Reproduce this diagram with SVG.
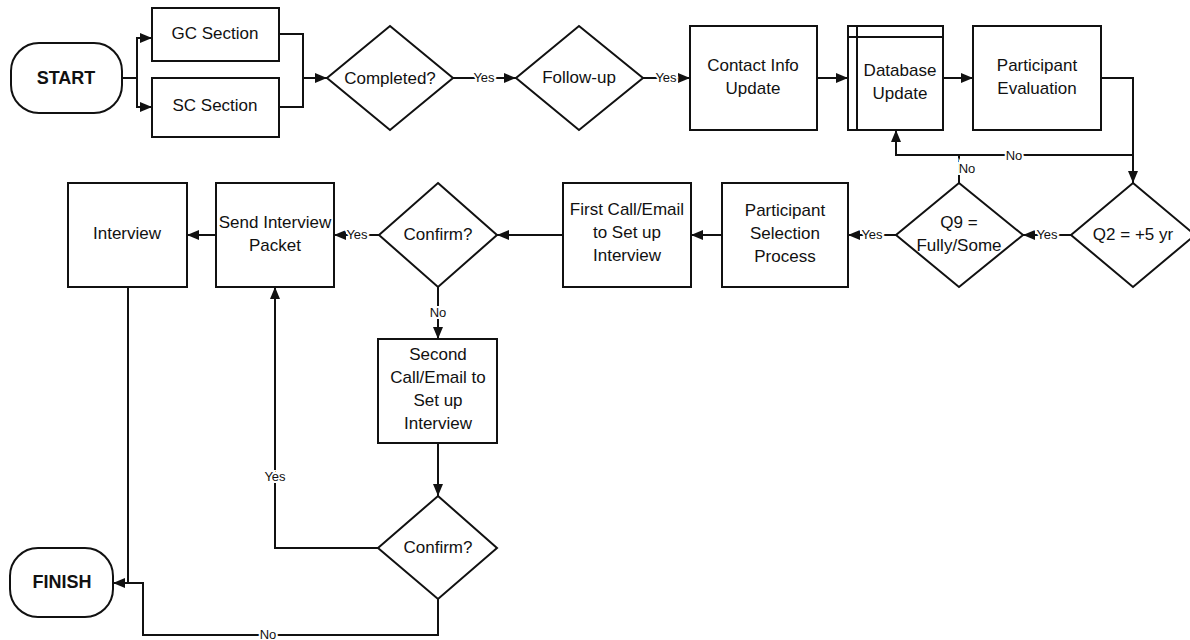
<svg xmlns="http://www.w3.org/2000/svg" width="1190" height="640" viewBox="0 0 1190 640">
<defs>
<style>
.n{fill:#fff;stroke:#111;stroke-width:2}
.t{font-family:"Liberation Sans",Arial,sans-serif;font-size:17px;fill:#111;text-anchor:middle;dominant-baseline:central}
.b{font-family:"Liberation Sans",Arial,sans-serif;font-size:18px;font-weight:bold;fill:#111;text-anchor:middle;dominant-baseline:central}
.c{fill:none;stroke:#111;stroke-width:2}
.l{font-family:"Liberation Sans",Arial,sans-serif;font-size:13px;fill:#111;text-anchor:middle;dominant-baseline:central;stroke:#fff;stroke-width:4;paint-order:stroke}
</style>
<marker id="a" markerUnits="userSpaceOnUse" markerWidth="13" markerHeight="10" refX="12" refY="5" orient="auto">
<path d="M0,0 L12,5 L0,10 z" fill="#111"/>
</marker>
</defs>
<rect width="1190" height="640" fill="#fff"/>
<g id="connectors">
<path class="c" d="M122,78 H137 V38 H152" marker-end="url(#a)"/>
<path class="c" d="M137,78 V107 H152" marker-end="url(#a)"/>
<path class="c" d="M279,34 H303 V78 H327" marker-end="url(#a)"/>
<path class="c" d="M279,107 H303 V78"/>
<path class="c" d="M453,78 H516" marker-end="url(#a)"/>
<path class="c" d="M643,78 H690" marker-end="url(#a)"/>
<path class="c" d="M817,78 H848" marker-end="url(#a)"/>
<path class="c" d="M943,78 H973" marker-end="url(#a)"/>
<path class="c" d="M1101,78 H1133 V183" marker-end="url(#a)"/>
<path class="c" d="M1133,155 H896 V130" marker-end="url(#a)"/>
<path class="c" d="M959,183 V155"/>
<path class="c" d="M1071,235 H1023" marker-end="url(#a)"/>
<path class="c" d="M896,235 H848" marker-end="url(#a)"/>
<path class="c" d="M722,235 H691" marker-end="url(#a)"/>
<path class="c" d="M563,235 H497" marker-end="url(#a)"/>
<path class="c" d="M379,235 H334" marker-end="url(#a)"/>
<path class="c" d="M216,235 H187" marker-end="url(#a)"/>
<path class="c" d="M438,287 V339" marker-end="url(#a)"/>
<path class="c" d="M438,443 V496" marker-end="url(#a)"/>
<path class="c" d="M378,548 H275 V287" marker-end="url(#a)"/>
<path class="c" d="M438,599 V635 H143 V583 H113" marker-end="url(#a)"/>
<path class="c" d="M128,287 V583"/>
<text class="l" x="484" y="77">Yes</text>
<text class="l" x="666" y="77">Yes</text>
<text class="l" x="1014" y="155">No</text>
<text class="l" x="967" y="168">No</text>
<text class="l" x="1047" y="234">Yes</text>
<text class="l" x="872" y="234">Yes</text>
<text class="l" x="357" y="234">Yes</text>
<text class="l" x="438" y="312">No</text>
<text class="l" x="275" y="476">Yes</text>
<text class="l" x="268" y="634">No</text>
</g>
<g id="start"><rect class="n" x="11" y="43" width="111" height="70" rx="28"/><text class="b" x="66" y="78">START</text></g>
<g id="gc"><rect class="n" x="152" y="8" width="127" height="53"/><text class="t" x="215" y="33">GC Section</text></g>
<g id="sc"><rect class="n" x="152" y="78" width="127" height="59"/><text class="t" x="215" y="105">SC Section</text></g>
<g id="completed"><polygon class="n" points="390,26 453,78 390,130 327,78"/><text class="t" x="390" y="78">Completed?</text></g>
<g id="followup"><polygon class="n" points="579,26 643,78 579,130 516,78"/><text class="t" x="579" y="77">Follow-up</text></g>
<g id="contact"><rect class="n" x="690" y="26" width="127" height="104"/><text class="t" x="753" y="65">Contact Info</text><text class="t" x="753" y="88">Update</text></g>
<g id="database"><rect class="n" x="848" y="26" width="95" height="104"/><path class="c" d="M857,26 V130 M848,37 H943"/><text class="t" x="900" y="70">Database</text><text class="t" x="900" y="93">Update</text></g>
<g id="evaluation"><rect class="n" x="973" y="26" width="128" height="104"/><text class="t" x="1037" y="65">Participant</text><text class="t" x="1037" y="88">Evaluation</text></g>
<g id="q2"><polygon class="n" points="1133,183 1195,235 1133,287 1071,235"/><text class="t" x="1133" y="234">Q2 = +5 yr</text></g>
<g id="q9"><polygon class="n" points="959,183 1023,235 959,287 896,235"/><text class="t" x="959" y="222">Q9 =</text><text class="t" x="959" y="245">Fully/Some</text></g>
<g id="selection"><rect class="n" x="722" y="183" width="126" height="104"/><text class="t" x="785" y="210">Participant</text><text class="t" x="785" y="233">Selection</text><text class="t" x="785" y="256">Process</text></g>
<g id="firstcall"><rect class="n" x="563" y="183" width="128" height="104"/><text class="t" x="627" y="209">First Call/Email</text><text class="t" x="627" y="232">to Set up</text><text class="t" x="627" y="255">Interview</text></g>
<g id="confirm1"><polygon class="n" points="438,183 497,235 438,287 379,235"/><text class="t" x="438" y="234">Confirm?</text></g>
<g id="packet"><rect class="n" x="216" y="183" width="118" height="104"/><text class="t" x="275" y="222">Send Interview</text><text class="t" x="275" y="245">Packet</text></g>
<g id="interview"><rect class="n" x="68" y="183" width="119" height="104"/><text class="t" x="127" y="233">Interview</text></g>
<g id="secondcall"><rect class="n" x="378" y="339" width="119" height="104"/><text class="t" x="438" y="354">Second</text><text class="t" x="438" y="377">Call/Email to</text><text class="t" x="438" y="400">Set up</text><text class="t" x="438" y="423">Interview</text></g>
<g id="confirm2"><polygon class="n" points="438,496 497,548 438,599 378,548"/><text class="t" x="438" y="547">Confirm?</text></g>
<g id="finish"><rect class="n" x="10" y="548" width="103" height="69" rx="28"/><text class="b" x="62" y="582">FINISH</text></g>
</svg>
